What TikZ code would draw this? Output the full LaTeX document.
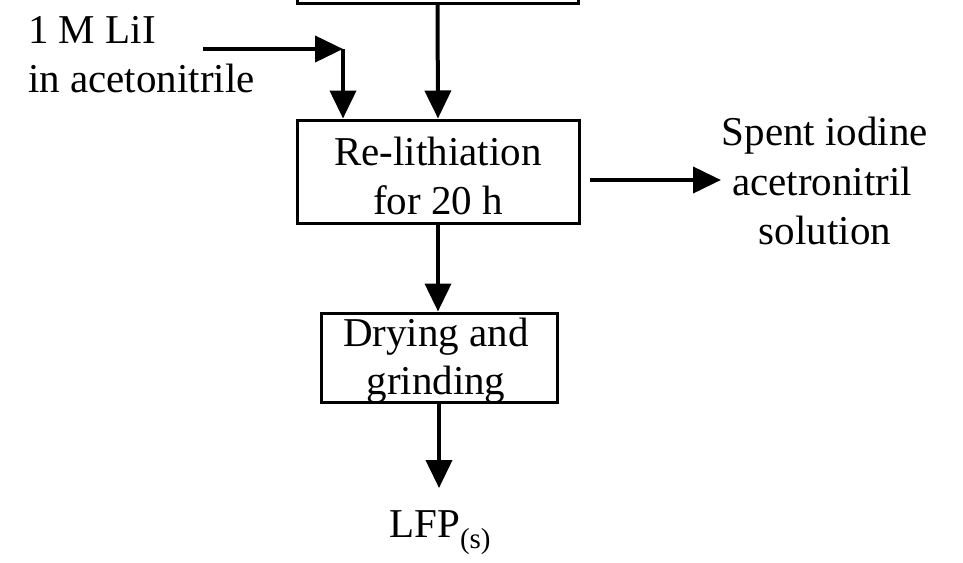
\documentclass[tikz,border=0pt]{standalone}
\usepackage{fontspec}
\setmainfont{Liberation Serif}
\usetikzlibrary{arrows.meta}
\begin{document}
\begin{tikzpicture}[x=1pt,y=-1pt,
 box/.style={draw, line width=3pt, inner sep=0pt},
 flow/.style={line width=4pt, -{Triangle[length=28pt,width=26pt]}},
 lbl/.style={font=\fontsize{41}{48}\selectfont, inner sep=0pt, anchor=base}]
\useasboundingbox (0,0) rectangle (963,562);
\clip (0,0) rectangle (963,562);
\fill[white] (0,0) rectangle (963,562);
% boxes
\node[box, minimum width=281pt, minimum height=60pt, anchor=south] (top) at (437.5,5) {};
\node[box, minimum width=282pt, minimum height=103pt] (relith) at (438,171.5) {};
\node[box, minimum width=236pt, minimum height=89pt] (dry) at (439,357.5) {};
% texts
\node[lbl] (r1) at (438,165) {Re-lithiation};
\node[lbl] (r2) at (438,214) {for 20 h};
\node[lbl] (d1) at (436,346) {Drying and};
\node[lbl] (d2) at (436,394) {grinding};
\node[lbl, anchor=base west] (l1) at (28,43) {1 M LiI};
\node[lbl, anchor=base west] (l2) at (28,92) {in acetonitrile};
\node[lbl] (s1) at (825,145) {Spent iodine};
\node[lbl] (s2) at (822,195) {acetronitril};
\node[lbl] (s3) at (825,244) {solution};
\node[lbl] (lfp) at (440,537) {LFP\raisebox{-0.28em}{\fontsize{29}{29}\selectfont(s)}};
% connector coordinates
\coordinate (liistart) at (203,49);
\coordinate (corner) at (343,49);
\coordinate (spentstart) at (590,180);
\coordinate (spentend) at (721,180);
\coordinate (lfpend) at (439,488);
% connectors
\draw[flow] (top.south) -- (relith.north);
\draw[flow] (liistart) -- (corner);
\draw[flow] (corner) -- (corner |- relith.north);
\draw[flow] (spentstart) -- (spentend);
\draw[flow] (relith.south) -- (relith.south |- dry.north);
\draw[flow] (dry.south) -- (dry.south |- lfpend);
\end{tikzpicture}
\end{document}
